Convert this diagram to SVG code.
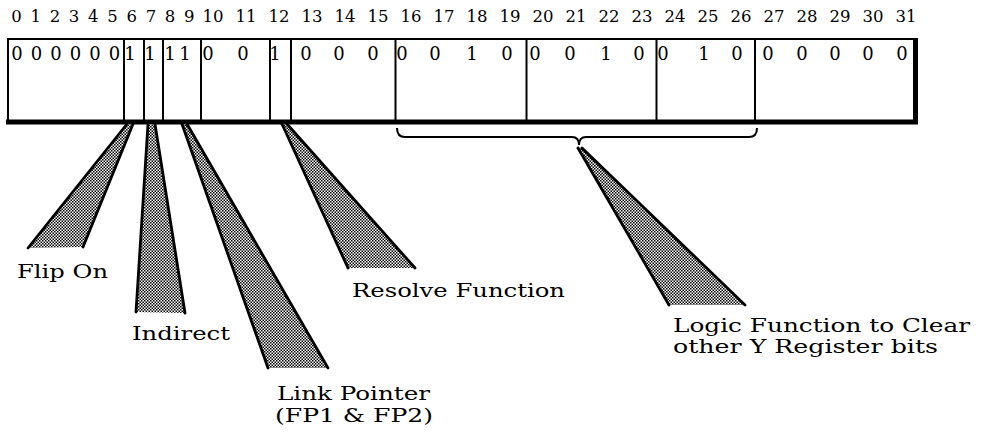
<svg xmlns="http://www.w3.org/2000/svg" width="990" height="434" viewBox="0 0 990 434">
<defs>
<pattern id="dots" patternUnits="userSpaceOnUse" width="3" height="3">
<rect width="3" height="3" fill="#fff"/>
<rect x="0" y="0" width="1.5" height="1.5" fill="#000"/>
<rect x="1.5" y="1.5" width="1.5" height="1.5" fill="#000"/>
</pattern>
</defs>
<style>
.num{font-family:"DejaVu Serif","Liberation Serif",serif;font-size:16.5px;fill:#000;text-anchor:middle}
.bit{font-family:"DejaVu Serif","Liberation Serif",serif;font-size:18px;fill:#000;text-anchor:middle}
.lbl{font-family:"DejaVu Serif","Liberation Serif",serif;font-size:19px;fill:#000}
.div{stroke:#000;stroke-width:2;fill:none}
.wedge{fill:url(#dots);stroke:none}
.edge{stroke:#000;stroke-width:2.8;fill:none;stroke-linecap:round}
</style>
<rect width="990" height="434" fill="#fff"/>
<g id="bit-numbers">
<text class="num" x="16.5" y="22">0</text><text class="num" x="35.7" y="22">1</text><text class="num" x="54.9" y="22">2</text><text class="num" x="74.1" y="22">3</text><text class="num" x="93.3" y="22">4</text><text class="num" x="112.5" y="22">5</text><text class="num" x="131.7" y="22">6</text><text class="num" x="150.9" y="22">7</text><text class="num" x="170.1" y="22">8</text><text class="num" x="189.3" y="22">9</text>
<text class="num" x="213" y="22">10</text><text class="num" x="246" y="22">11</text><text class="num" x="279" y="22">12</text><text class="num" x="312" y="22">13</text><text class="num" x="345" y="22">14</text><text class="num" x="378" y="22">15</text><text class="num" x="411" y="22">16</text><text class="num" x="444" y="22">17</text><text class="num" x="477" y="22">18</text><text class="num" x="510" y="22">19</text><text class="num" x="543" y="22">20</text><text class="num" x="576" y="22">21</text><text class="num" x="609" y="22">22</text><text class="num" x="642" y="22">23</text><text class="num" x="675" y="22">24</text><text class="num" x="708" y="22">25</text><text class="num" x="741" y="22">26</text><text class="num" x="774" y="22">27</text><text class="num" x="807" y="22">28</text><text class="num" x="840" y="22">29</text><text class="num" x="873" y="22">30</text><text class="num" x="906" y="22">31</text>
</g>
<g id="register">
<line class="div" x1="7" y1="39" x2="918" y2="39"/>
<line class="div" x1="8" y1="39" x2="8" y2="122"/>
<line x1="915.5" y1="38" x2="915.5" y2="124" stroke="#000" stroke-width="5"/>
<line x1="6" y1="122" x2="918" y2="122" stroke="#000" stroke-width="5"/>
<line class="div" x1="124" y1="39" x2="124" y2="122"/>
<line class="div" x1="144" y1="39" x2="144" y2="122"/>
<line class="div" x1="163" y1="39" x2="163" y2="122"/>
<line class="div" x1="201" y1="39" x2="201" y2="122"/>
<line class="div" x1="270" y1="39" x2="270" y2="122"/>
<line class="div" x1="291" y1="39" x2="291" y2="122"/>
<line class="div" x1="395.5" y1="39" x2="395.5" y2="122"/>
<line class="div" x1="526.5" y1="39" x2="526.5" y2="122"/>
<line class="div" x1="656.5" y1="39" x2="656.5" y2="122"/>
<line class="div" x1="755" y1="39" x2="755" y2="122"/>
<text class="bit" x="17" y="60">0</text><text class="bit" x="36.5" y="60">0</text><text class="bit" x="56" y="60">0</text><text class="bit" x="75.5" y="60">0</text><text class="bit" x="95" y="60">0</text><text class="bit" x="114.5" y="60">0</text>
<text class="bit" x="130" y="60">1</text><text class="bit" x="150" y="60">1</text><text class="bit" x="170" y="60">1</text><text class="bit" x="185" y="60">1</text>
<text class="bit" x="208" y="60">0</text><text class="bit" x="243" y="60">0</text>
<text class="bit" x="275" y="60">1</text>
<text class="bit" x="306" y="60">0</text><text class="bit" x="339" y="60">0</text><text class="bit" x="373" y="60">0</text>
<text class="bit" x="402" y="60">0</text><text class="bit" x="435" y="60">0</text><text class="bit" x="472" y="60">1</text><text class="bit" x="507" y="60">0</text>
<text class="bit" x="535" y="60">0</text><text class="bit" x="570" y="60">0</text><text class="bit" x="606" y="60">1</text><text class="bit" x="639" y="60">0</text>
<text class="bit" x="663" y="60">0</text><text class="bit" x="704" y="60">1</text><text class="bit" x="737" y="60">0</text>
<text class="bit" x="768" y="60">0</text><text class="bit" x="802" y="60">0</text><text class="bit" x="835" y="60">0</text><text class="bit" x="868" y="60">0</text><text class="bit" x="902" y="60">0</text>
</g>
<g id="connectors">
<path class="div" d="M397 128 Q397 137 405 137 L572 137 Q579 137 579 145 Q579 137 586 137 L749 137 Q757 137 757 128"/>
<polygon class="wedge" points="127,124 133,124 83,247 28,248"/>
<path class="edge" d="M127 124 L28 248 M133 124 L83 247"/>
<polygon class="wedge" points="148,124 155,124 185,313 136,312"/>
<path class="edge" d="M148 124 L136 312 M155 124 L185 313"/>
<polygon class="wedge" points="182,124 187,124 328,368 268,368"/>
<path class="edge" d="M182 124 L268 368 M187 124 L328 368"/>
<polygon class="wedge" points="282,124 287,124 415,268 348,268"/>
<path class="edge" d="M282 124 L348 268 M287 124 L415 268"/>
<polygon class="wedge" points="578,148 582,148 745,305 669,305"/>
<path class="edge" d="M578 148 L669 305 M582 148 L745 305"/>
</g>
<g id="label-flip-on"><text class="lbl" x="17" y="278" textLength="91" lengthAdjust="spacingAndGlyphs">Flip On</text></g>
<g id="label-indirect"><text class="lbl" x="132" y="340" textLength="98" lengthAdjust="spacingAndGlyphs">Indirect</text></g>
<g id="label-link-pointer"><text class="lbl" x="277" y="400" textLength="153" lengthAdjust="spacingAndGlyphs">Link Pointer</text><text class="lbl" x="275" y="422" textLength="158" lengthAdjust="spacingAndGlyphs">(FP1 &amp; FP2)</text></g>
<g id="label-resolve"><text class="lbl" x="352" y="297" textLength="213" lengthAdjust="spacingAndGlyphs">Resolve Function</text></g>
<g id="label-logic"><text class="lbl" x="673" y="332" textLength="297" lengthAdjust="spacingAndGlyphs">Logic Function to Clear</text><text class="lbl" x="673" y="353" textLength="265" lengthAdjust="spacingAndGlyphs">other Y Register bits</text></g>
</svg>
